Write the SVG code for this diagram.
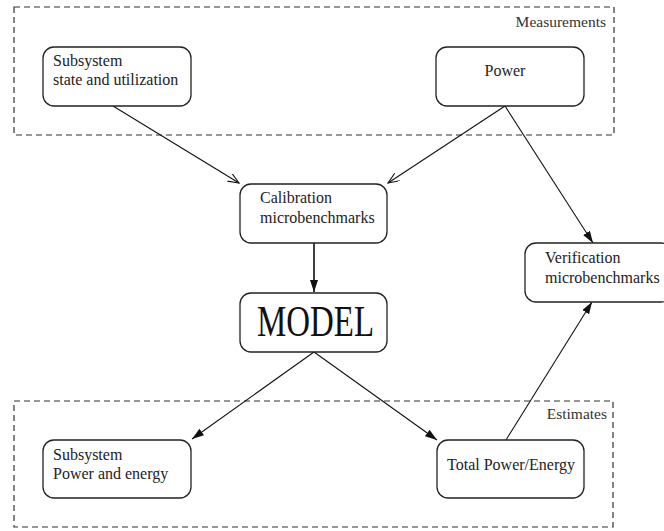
<svg xmlns="http://www.w3.org/2000/svg" width="664" height="531" viewBox="0 0 664 531">
<style>
  .grp { fill: none; stroke: #333; stroke-width: 1.2; stroke-dasharray: 6 4; }
  .node rect { fill: #fff; stroke: #222; stroke-width: 1.3; }
  text { font-family: "Liberation Serif", "Times New Roman", serif; font-size: 16px; fill: #222; }
  .lbl { font-size: 15.5px; fill: #333; }
  .big { font-size: 44px; fill: #111; }
  .edge { fill: none; stroke: #111; stroke-width: 1.1; }
  .thick { stroke-width: 1.6; }
</style>
<defs>
  <marker id="open" markerUnits="userSpaceOnUse" markerWidth="14" markerHeight="12" refX="11" refY="4.5" orient="auto">
    <path d="M0,0 L11,4.5 L0,9" fill="none" stroke="#111" stroke-width="1.1"/>
  </marker>
  <marker id="filled" markerUnits="userSpaceOnUse" markerWidth="14" markerHeight="10" refX="12" refY="4" orient="auto">
    <path d="M0,0 L12,4 L0,8 z" fill="#111"/>
  </marker>
</defs>
<rect width="664" height="531" fill="#fff"/>

<g id="group-measurements">
  <rect class="grp" x="14" y="7" width="600" height="128"/>
  <text class="lbl" x="606" y="27" text-anchor="end">Measurements</text>
</g>
<g id="group-estimates">
  <rect class="grp" x="14" y="401" width="599" height="126"/>
  <text class="lbl" x="607" y="419" text-anchor="end">Estimates</text>
</g>

<g id="connectors">
  <line class="edge" x1="113" y1="106" x2="239" y2="183" marker-end="url(#open)"/>
  <line class="edge" x1="505" y1="106" x2="388" y2="183" marker-end="url(#open)"/>
  <line class="edge" x1="505" y1="106" x2="593" y2="243" marker-end="url(#filled)"/>
  <line class="edge thick" x1="314" y1="243" x2="314" y2="292" marker-end="url(#filled)"/>
  <line class="edge" x1="314" y1="352" x2="192" y2="439" marker-end="url(#filled)"/>
  <line class="edge" x1="314" y1="352" x2="437" y2="440" marker-end="url(#filled)"/>
  <line class="edge" x1="506" y1="440" x2="592" y2="302" marker-end="url(#filled)"/>
</g>

<g id="node-subsystem-state" class="node">
  <rect x="43" y="47" width="148" height="59" rx="11"/>
  <text x="53" y="66">Subsystem</text>
  <text x="53" y="85">state and utilization</text>
</g>
<g id="node-power" class="node">
  <rect x="436" y="47" width="148" height="59" rx="11"/>
  <text x="505" y="76" text-anchor="middle">Power</text>
</g>
<g id="node-calibration" class="node">
  <rect x="240" y="184" width="147" height="59" rx="11"/>
  <text x="260" y="203">Calibration</text>
  <text x="260" y="223">microbenchmarks</text>
</g>
<g id="node-model" class="node">
  <rect x="240" y="293" width="147" height="59" rx="11"/>
  <text class="big" x="257" y="336" textLength="117" lengthAdjust="spacingAndGlyphs">MODEL</text>
</g>
<g id="node-verification" class="node">
  <rect x="525" y="243" width="147" height="59" rx="11"/>
  <text x="545" y="263">Verification</text>
  <text x="545" y="283">microbenchmarks</text>
</g>
<g id="node-subsystem-power" class="node">
  <rect x="43" y="440" width="148" height="58" rx="11"/>
  <text x="53" y="460">Subsystem</text>
  <text x="53" y="479">Power and energy</text>
</g>
<g id="node-total" class="node">
  <rect x="437" y="440" width="147" height="58" rx="11"/>
  <text x="511" y="470" text-anchor="middle">Total Power/Energy</text>
</g>
</svg>
